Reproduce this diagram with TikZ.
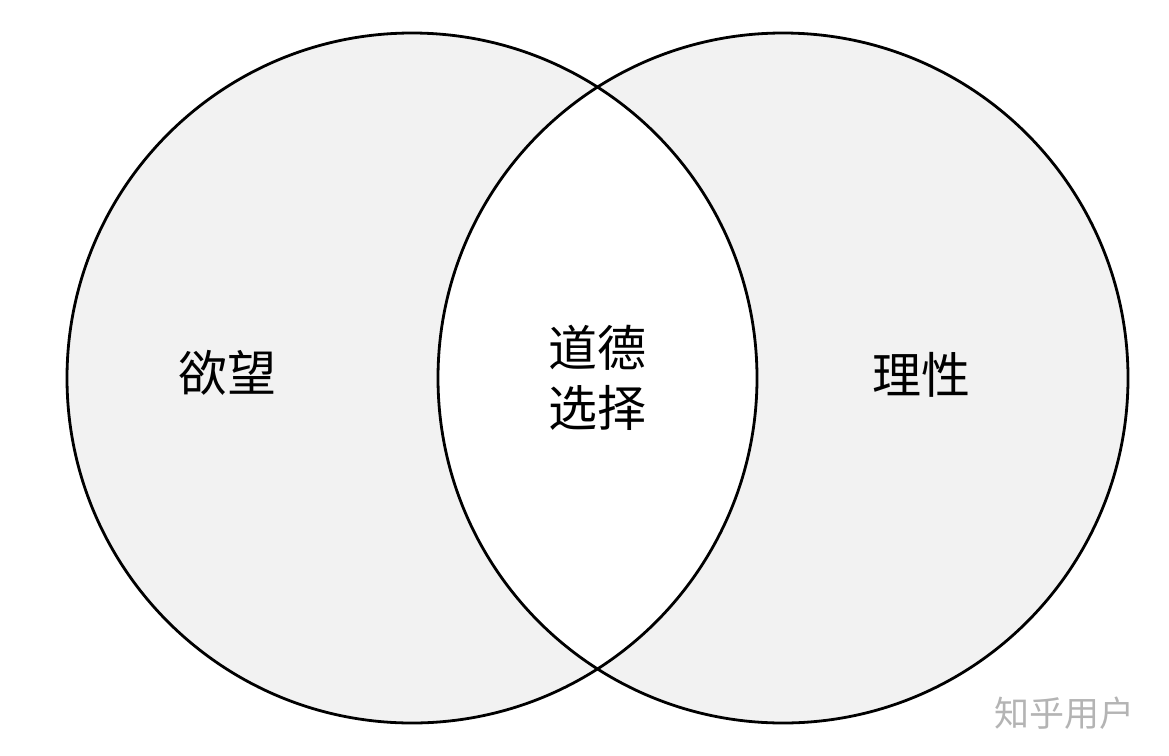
\documentclass[tikz,border=0pt]{standalone}
\usepackage{fontspec}
\newfontfamily\cjk{Noto Sans CJK SC}
\usetikzlibrary{positioning}
\definecolor{setgray}{HTML}{F2F2F2}
\definecolor{markgray}{HTML}{B4B4B4}
\tikzset{setline/.style={draw=black,line width=2.8pt}}
\tikzset{lbl/.style={font=\cjk\fontsize{49}{60}\selectfont,align=center,inner sep=0pt}}
\tikzset{wmark/.style={font=\cjk\fontsize{35}{40}\selectfont,text=markgray,inner sep=0pt}}

\begin{document}
\begin{tikzpicture}[x=1pt,y=-1pt]
	\useasboundingbox (0,0) rectangle (1169,755);
	\coordinate (yu) at (412,378);
	\coordinate (li) at (783,378);

	% the two sets, lens left white
	\fill[setgray] (yu) circle[radius=345pt] (li) circle[radius=345pt];
	\begin{scope}
		\clip (yu) circle[radius=345pt];
		\fill[white] (li) circle[radius=345pt];
	\end{scope}
	\draw[setline] (yu) circle[radius=345pt];
	\draw[setline] (li) circle[radius=345pt];

	\node[lbl] (desire) at (227,373) {欲望};
	\node[lbl] (reason) at (921,375) {理性};
	\node[lbl] (moral) at (597,378) {道德\\选择};
	\node[wmark] (zh) at (1064,713) {知乎用户};
\end{tikzpicture}
\end{document}
